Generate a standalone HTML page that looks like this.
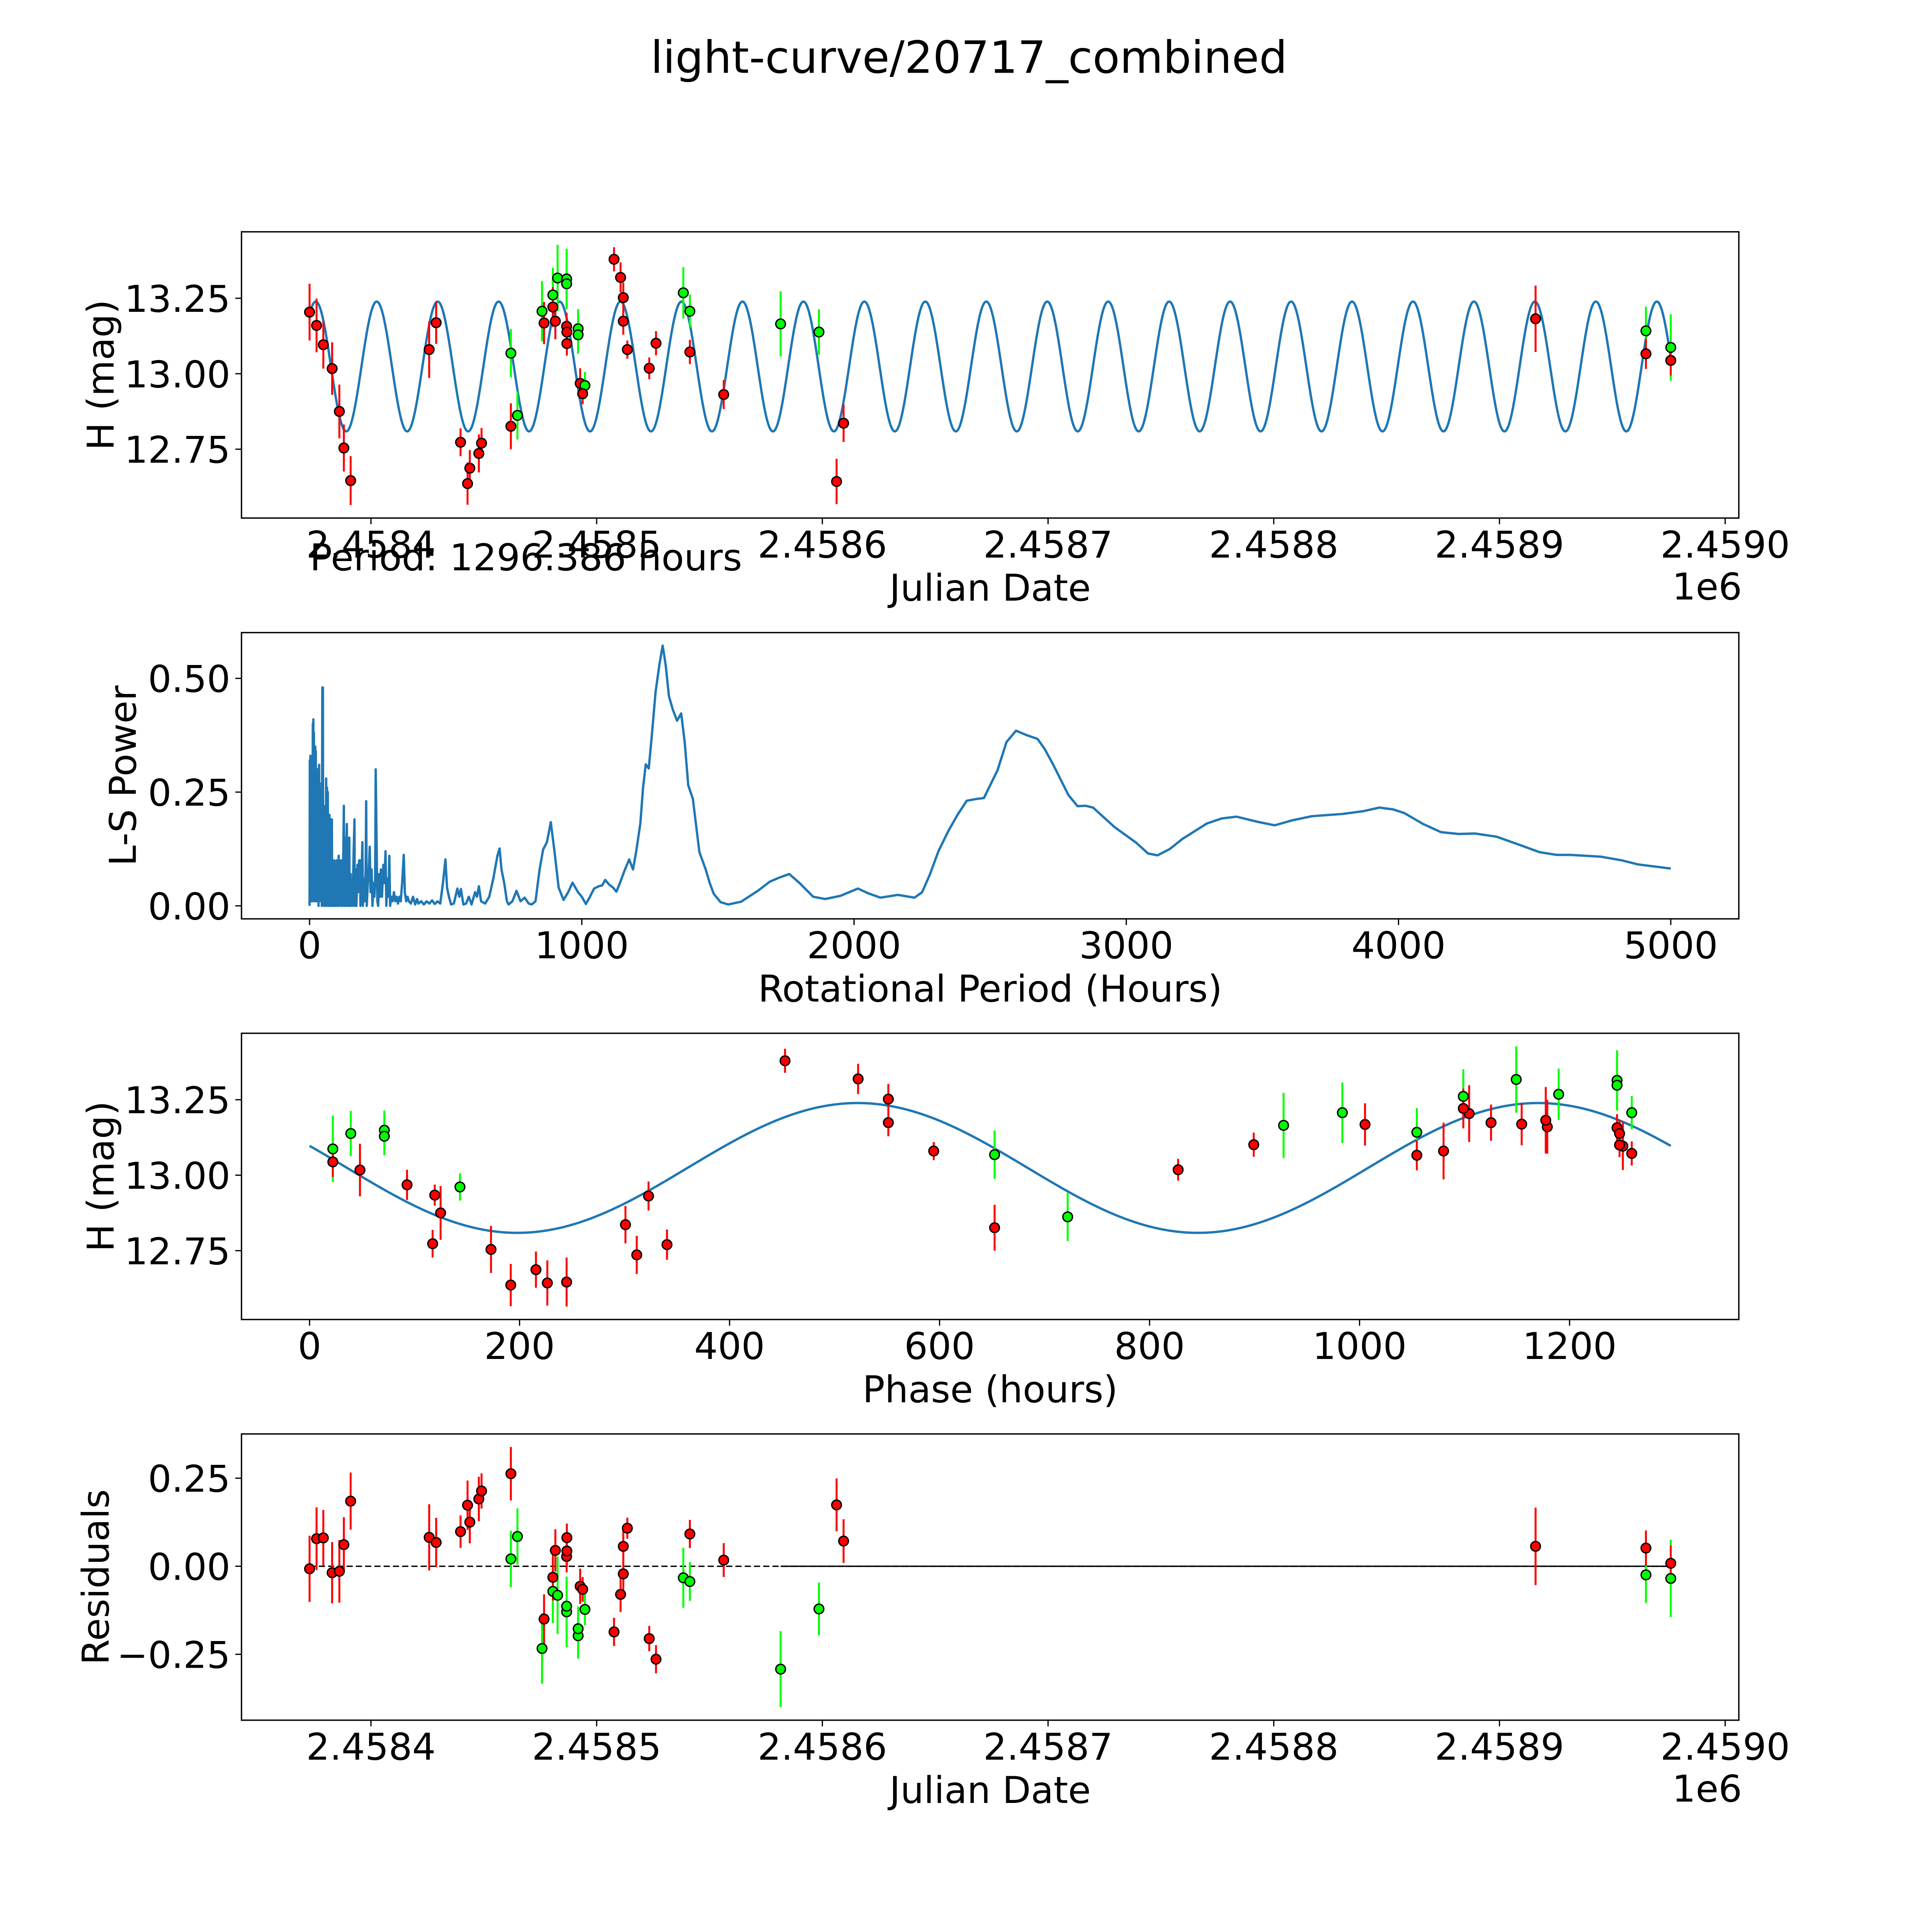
<!DOCTYPE html>
<html><head><meta charset="utf-8">
<style>
html,body{margin:0;padding:0;background:#fff;width:100%;height:100%;overflow:hidden;}
svg{display:block;width:100vw;height:100vh;}
text{font-family:"DejaVu Sans","Liberation Sans",sans-serif;fill:#000;}
</style></head>
<body>
<svg id="fig" xmlns="http://www.w3.org/2000/svg" viewBox="0 0 1565.2 1565.2" preserveAspectRatio="xMidYMid meet">
<rect x="0" y="0" width="1565.2" height="1565.2" fill="#fff"/>
<text x="785" y="59" font-size="36" text-anchor="middle">light-curve/20717_combined</text>
</svg>
<script>
// ---------- data ----------
// days offset from JD 2458400
const jdOffset = [-27.2,-24.1,-21.1,-17.2,-14.0,-12.0,-9.0,25.8,28.9,39.7,42.8,43.8,47.8,49.0,62.0,62.0,64.9,75.8,76.7,80.6,80.6,81.7,82.7,86.7,86.7,86.7,86.8,86.8,91.8,91.8,92.7,94.8,93.8,107.7,110.6,111.8,111.8,113.6,123.3,126.3,138.4,141.3,141.3,156.3,181.5,198.5,206.3,209.4,516.0,564.9,564.9,575.9,575.9];
const magH = [13.204,13.160,13.096,13.017,12.875,12.754,12.646,13.080,13.169,12.773,12.636,12.687,12.736,12.770,12.826,13.068,12.862,13.207,13.168,13.261,13.221,13.174,13.317,13.314,13.298,13.157,13.138,13.100,13.149,13.129,12.968,12.961,12.934,13.379,13.319,13.252,13.174,13.080,13.018,13.101,13.268,13.207,13.072,12.931,13.165,13.138,12.643,12.836,13.182,13.142,13.066,13.087,13.044];
const magErr = [0.094,0.089,0.079,0.087,0.089,0.078,0.081,0.094,0.07,0.046,0.07,0.06,0.063,0.05,0.076,0.08,0.08,0.1,0.07,0.09,0.066,0.06,0.11,0.1,0.08,0.045,0.045,0.04,0.065,0.063,0.05,0.045,0.035,0.04,0.05,0.05,0.045,0.03,0.036,0.04,0.085,0.055,0.04,0.048,0.108,0.075,0.075,0.062,0.11,0.08,0.05,0.11,0.05];
const band = ['r','r','r','r','r','r','r','r','r','r','r','r','r','r','r','g','g','g','r','g','r','r','g','g','g','r','r','r','g','g','r','g','r','r','r','r','r','r','r','r','g','g','r','r','g','g','r','r','r','g','r','g','r'];
// model fit
const periodHours = 1296.386;
const fitMean = [13.024];
const fitAmp = [0.215];
const fitPeakDay = [515.7];
const phaseZeroDay = [-19.2];
// periodogram
const lsPeriod = [0,1,2,3,4,5,6,7,8,9,10,12,13,14,15,16,17,18,19,21,22,23,24,26,27,29,30,32,33,35,36,38,39,41,42,44,45,47,48,49,50,52,53,55,56,58,59,61,62,64,65,67,68,70,71,73,74,76,77,79,80,82,83,86,87,90,91,94,95,99,100,103,104,107,108,111,112,115,116,119,120,124,126,127,130,131,134,137,138,142,143,146,147,151,152,156,158,162,165,166,170,172,176,178,182,185,187,191,194,196,200,203,206,208,210,214,218,221,224,228,231,235,238,241,243,246,249,252,256,259,262,266,271,275,279,282,286,290,293,296,300,305,310,315,320,325,330,335,340,346,350,355,360,365,372,380,388,395,400,410,420,430,440,450,460,470,480,490,499,505,512,520,530,543,550,556,565,575,585,595,608,615,622,630,645,660,675,690,698,705,715,725,731,745,760,775,790,805,816,830,845,858,872,886,900,915,933,950,966,986,1000,1015,1030,1045,1062,1075,1086,1100,1115,1127,1140,1156,1174,1188,1200,1215,1225,1235,1246,1258,1271,1285,1297,1308,1320,1335,1350,1365,1378,1391,1408,1432,1455,1470,1485,1510,1538,1585,1649,1690,1725,1762,1800,1850,1894,1950,2014,2050,2097,2161,2222,2250,2278,2310,2346,2380,2414,2450,2477,2527,2560,2595,2635,2674,2700,2731,2787,2821,2850,2878,2957,3036,3080,3115,3160,3206,3296,3350,3405,3480,3545,3610,3681,3794,3870,3930,3980,4021,4090,4156,4220,4281,4360,4440,4518,4580,4631,4744,4820,4880,5000];
const lsPower = [0,0.32,0.05,0.33,0.02,0.28,0.01,0.3,0.03,0.25,0.01,0.4,0.05,0.41,0.02,0.38,0.01,0.2,0.02,0.35,0.01,0.34,0.03,0.22,0.01,0.3,0.02,0.26,0.0,0.31,0.01,0.24,0.02,0.2,0.01,0.27,0.0,0.48,0.02,0.48,0.01,0.22,0.0,0.18,0.01,0.2,0.0,0.28,0.01,0.26,0.0,0.25,0.02,0.12,0.0,0.2,0.01,0.11,0.0,0.19,0.01,0.19,0.0,0.08,0.0,0.1,0.0,0.06,0.0,0.1,0.0,0.07,0.0,0.11,0.0,0.06,0.01,0.1,0.0,0.08,0.0,0.12,0.22,0.0,0.15,0.0,0.1,0.18,0.0,0.1,0.0,0.15,0.0,0.07,0.0,0.04,0.0,0.12,0.19,0.0,0.08,0.0,0.09,0.03,0.1,0.1,0.0,0.06,0.14,0.0,0.06,0.01,0.08,0.23,0.0,0.05,0.08,0.13,0.03,0.08,0.0,0.05,0.02,0.06,0.3,0.15,0.01,0.0,0.07,0.02,0.08,0.02,0.09,0.05,0.12,0.0,0.06,0.02,0.11,0.0,0.02,0.01,0.03,0.01,0.02,0.005,0.02,0.01,0.05,0.112,0.03,0.01,0.02,0.01,0.005,0.02,0.003,0.015,0.005,0.01,0.003,0.01,0.005,0.012,0.004,0.01,0.005,0.05,0.102,0.04,0.02,0.003,0.005,0.038,0.02,0.037,0.003,0.005,0.02,0.003,0.03,0.02,0.043,0.01,0.005,0.02,0.06,0.11,0.126,0.08,0.05,0.01,0.003,0.01,0.033,0.01,0.018,0.005,0.003,0.01,0.08,0.124,0.14,0.184,0.118,0.04,0.013,0.03,0.051,0.03,0.02,0.004,0.02,0.038,0.043,0.045,0.057,0.047,0.04,0.031,0.05,0.076,0.102,0.08,0.12,0.181,0.26,0.311,0.302,0.38,0.47,0.53,0.572,0.53,0.461,0.43,0.407,0.423,0.36,0.265,0.235,0.118,0.08,0.05,0.026,0.008,0.003,0.009,0.034,0.053,0.062,0.07,0.05,0.02,0.015,0.022,0.038,0.028,0.018,0.024,0.018,0.03,0.068,0.12,0.164,0.2,0.231,0.235,0.237,0.298,0.36,0.385,0.375,0.367,0.345,0.311,0.244,0.219,0.22,0.216,0.173,0.139,0.115,0.111,0.125,0.147,0.181,0.192,0.196,0.185,0.177,0.188,0.197,0.202,0.208,0.216,0.212,0.204,0.18,0.162,0.158,0.159,0.152,0.135,0.118,0.112,0.112,0.108,0.1,0.091,0.082];
// ticks
const jdTicks = [0,100,200,300,400,500,600];
const jdTickLabels = ['2.4584','2.4585','2.4586','2.4587','2.4588','2.4589','2.4590'];
const magTicks = [12.75,13.00,13.25];
const magTickLabels = ['12.75','13.00','13.25'];
const lsXTicks = [0,1000,2000,3000,4000,5000];
const lsYTicks = [0,0.25,0.5];
const lsYTickLabels = ['0.00','0.25','0.50'];
const phaseTicks = [0,200,400,600,800,1000,1200];
const residTicks = [-0.25,0,0.25];
const residTickLabels = ['\u22120.25','0.00','0.25'];

// ---------- helpers ----------
const NS = 'http://www.w3.org/2000/svg';
const svg = document.getElementById('fig');
const L = 195.65, R = 1408.7, H = 231.9;
const TOPS = [187.8, 512.5, 837.1, 1161.7];
const BLUE = '#1f77b4';
const FS = 30;
function mk(tag, attrs, parent) {
  const e = document.createElementNS(NS, tag);
  for (const k in attrs) e.setAttribute(k, attrs[k]);
  (parent || svg).appendChild(e);
  return e;
}
function lim(lo, hi) { const r = hi - lo; return [lo - 0.05 * r, hi + 0.05 * r]; }
function scale(d0, d1, r0, r1) { return v => r0 + (v - d0) / (d1 - d0) * (r1 - r0); }
function model(day) { return fitMean[0] + fitAmp[0] * Math.cos(2 * Math.PI * (day - fitPeakDay[0]) / (periodHours / 48)); }
function phaseOf(day) { let p = ((day - phaseZeroDay[0]) * 24) % periodHours; if (p < 0) p += periodHours; return p; }

function axesFrame(i, name) {
  const g = mk('g', {});
  
  
  const clip = mk('clipPath', { id: 'clip' + i }, g);
  mk('rect', { x: L, y: TOPS[i], width: R - L, height: H }, clip);
  return g;
}
function drawFrame(g, i) {
  const f = mk('rect', { x: L, y: TOPS[i], width: R - L, height: H, fill: 'none', stroke: '#000', 'stroke-width': 1.1 }, g);
  
  
}
function xTicks(g, i, xs, ticks, labels) {
  const yb = TOPS[i] + H;
  ticks.forEach((t, k) => {
    const x = xs(t);
    const tl = mk('line', { x1: x, x2: x, y1: yb, y2: yb + 5, stroke: '#000', 'stroke-width': 1 }, g);
    
    
    const tx = mk('text', { x: x, y: yb + 32, 'font-size': FS, 'text-anchor': 'middle' }, g);
    tx.textContent = labels[k];
    
    
  });
}
function yTicks(g, i, ys, ticks, labels) {
  ticks.forEach((t, k) => {
    const y = ys(t);
    const tl = mk('line', { x1: L - 5, x2: L, y1: y, y2: y, stroke: '#000', 'stroke-width': 1 }, g);
    
    
    const tx = mk('text', { x: L - 9, y: y + 11, 'font-size': FS, 'text-anchor': 'end' }, g);
    tx.textContent = labels[k];
    
    
  });
}
function xLabel(g, i, txt) {
  const t = mk('text', { x: (L + R) / 2, y: TOPS[i] + H + 67, 'font-size': FS, 'text-anchor': 'middle' }, g);
  t.textContent = txt;
  
  
}
function yLabel(g, i, txt, x) {
  const cy = TOPS[i] + H / 2;
  const t = mk('text', { x: x, y: cy, 'font-size': FS, 'text-anchor': 'middle', transform: 'rotate(-90 ' + x + ' ' + cy + ')' }, g);
  t.textContent = txt;
  
  
}
function offsetText(g, i) {
  const t = mk('text', { x: 1383, y: TOPS[i] + H + 66, 'font-size': FS, 'text-anchor': 'middle' }, g);
  t.textContent = '1e6';
  
  
}
function linePath(g, i, xsArr, ysArr, xs, ys, name) {
  let d = '';
  for (let k = 0; k < xsArr.length; k++) d += (k ? 'L' : 'M') + xs(xsArr[k]).toFixed(2) + ' ' + ys(ysArr[k]).toFixed(2);
  const p = mk('path', { d: d, fill: 'none', stroke: BLUE, 'stroke-width': 1.9, 'stroke-linejoin': 'round', 'clip-path': 'url(#clip' + i + ')' }, g);
  
  
}
function points(g, i, xv, yv, ev, xs, ys) {
  for (let k = 0; k < xv.length; k++) {
    const col = band[k] === 'g' ? '#00ff00' : '#ff0000';
    const x = xs(xv[k]);
    const eb = mk('line', { x1: x, x2: x, y1: ys(yv[k] - ev[k]), y2: ys(yv[k] + ev[k]), stroke: col, 'stroke-width': 1.6, 'clip-path': 'url(#clip' + i + ')' }, g);
    
    
  }
  for (let k = 0; k < xv.length; k++) {
    const col = band[k] === 'g' ? '#00ff00' : '#ff0000';
    const c = mk('circle', { cx: xs(xv[k]), cy: ys(yv[k]), r: 3.9, fill: col, stroke: '#000', 'stroke-width': 1.1 }, g);
    
    
  }
}

// ---------- panel 1: light curve ----------
(function () {
  const i = 0;
  const g = axesFrame(i, 'light-curve-panel');
  const dmin = Math.min(...jdOffset), dmax = Math.max(...jdOffset);
  const cx = [], cy = [];
  for (let k = 0; k <= 3000; k++) { const d = dmin + (dmax - dmin) * k / 3000; cx.push(d); cy.push(model(d)); }
  let lo = Math.min(...cy), hi = Math.max(...cy);
  for (let k = 0; k < magH.length; k++) { lo = Math.min(lo, magH[k] - magErr[k]); hi = Math.max(hi, magH[k] + magErr[k]); }
  const [y0, y1] = lim(lo, hi);
  const [x0, x1] = lim(dmin, dmax);
  const xs = scale(x0, x1, L, R), ys = scale(y0, y1, TOPS[i] + H, TOPS[i]);
  linePath(g, i, cx, cy, xs, ys, 'fit-curve');
  points(g, i, jdOffset, magH, magErr, xs, ys);
  drawFrame(g, i);
  xTicks(g, i, xs, jdTicks, jdTickLabels);
  yTicks(g, i, ys, magTicks, magTickLabels);
  xLabel(g, i, 'Julian Date');
  yLabel(g, i, 'H (mag)', 92);
  offsetText(g, i);
})();

// ---------- panel 2: periodogram ----------
(function () {
  const i = 1;
  const g = axesFrame(i, 'periodogram-panel');
  const [x0, x1] = lim(Math.min(...lsPeriod), Math.max(...lsPeriod));
  const [y0, y1] = lim(Math.min(...lsPower), Math.max(...lsPower));
  const xs = scale(x0, x1, L, R), ys = scale(y0, y1, TOPS[i] + H, TOPS[i]);
  linePath(g, i, lsPeriod, lsPower, xs, ys, 'ls-power-line');
  drawFrame(g, i);
  xTicks(g, i, xs, lsXTicks, lsXTicks.map(String));
  yTicks(g, i, ys, lsYTicks, lsYTickLabels);
  xLabel(g, i, 'Rotational Period (Hours)');
  yLabel(g, i, 'L-S Power', 110);
  const t = mk('text', { x: 251, y: 462, 'font-size': FS }, g);
  t.textContent = 'Period: ' + periodHours.toFixed(3) + ' hours';
  
  
})();

// ---------- panel 3: phased ----------
(function () {
  const i = 2;
  const g = axesFrame(i, 'phased-panel');
  const ph = jdOffset.map(phaseOf);
  const cx = [], cy = [];
  for (let k = 0; k <= 1000; k++) { const p = periodHours * k / 1000; cx.push(p); cy.push(model(phaseZeroDay[0] + p / 24)); }
  let lo = Math.min(...cy), hi = Math.max(...cy);
  for (let k = 0; k < magH.length; k++) { lo = Math.min(lo, magH[k] - magErr[k]); hi = Math.max(hi, magH[k] + magErr[k]); }
  const [y0, y1] = lim(lo, hi);
  const [x0, x1] = lim(Math.min(0, ...ph), Math.max(periodHours, ...ph));
  const xs = scale(x0, x1, L, R), ys = scale(y0, y1, TOPS[i] + H, TOPS[i]);
  linePath(g, i, cx, cy, xs, ys, 'phased-fit-curve');
  points(g, i, ph, magH, magErr, xs, ys);
  drawFrame(g, i);
  xTicks(g, i, xs, phaseTicks, phaseTicks.map(String));
  yTicks(g, i, ys, magTicks, magTickLabels);
  xLabel(g, i, 'Phase (hours)');
  yLabel(g, i, 'H (mag)', 92);
})();

// ---------- panel 4: residuals ----------
(function () {
  const i = 3;
  const g = axesFrame(i, 'residuals-panel');
  const res = jdOffset.map((d, k) => model(d) - magH[k]);
  let lo = 0, hi = 0;
  for (let k = 0; k < res.length; k++) { lo = Math.min(lo, res[k] - magErr[k]); hi = Math.max(hi, res[k] + magErr[k]); }
  const [y0, y1] = lim(lo, hi);
  const dmin = Math.min(...jdOffset), dmax = Math.max(...jdOffset);
  const [x0, x1] = lim(dmin, dmax);
  const xs = scale(x0, x1, L, R), ys = scale(y0, y1, TOPS[i] + H, TOPS[i]);
  const z1 = mk('line', { x1: xs(dmin), x2: xs(dmax), y1: ys(0), y2: ys(0), stroke: '#000', 'stroke-width': 1.1, 'stroke-dasharray': '5 2.5' }, g);
  
  
  const z2 = mk('line', { x1: xs(181.5), x2: xs(dmax), y1: ys(0), y2: ys(0), stroke: '#000', 'stroke-width': 1.1 }, g);
  
  
  points(g, i, jdOffset, res, magErr, xs, ys);
  drawFrame(g, i);
  xTicks(g, i, xs, jdTicks, jdTickLabels);
  yTicks(g, i, ys, residTicks, residTickLabels);
  xLabel(g, i, 'Julian Date');
  yLabel(g, i, 'Residuals', 88);
  offsetText(g, i);
})();
</script>
</body></html>
